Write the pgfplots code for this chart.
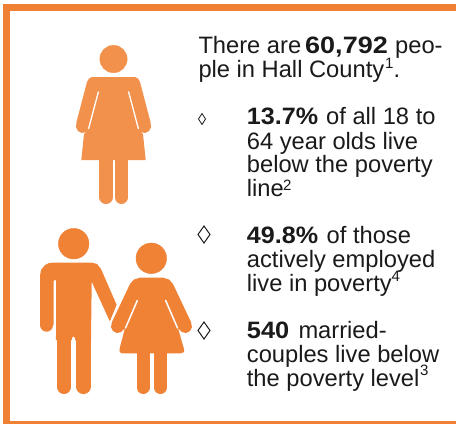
\documentclass[border=0pt]{standalone}
\usepackage{fontspec}
\setmainfont{Liberation Sans}
\usepackage{graphicx}
\usepackage{pgfplots}
\pgfplotsset{compat=1.18}
\definecolor{band}{HTML}{F08033}
\definecolor{womanA}{HTML}{F2914C}
\definecolor{couple}{HTML}{F08236}
\definecolor{ink}{HTML}{1A1A1A}
\newcommand{\body}{\fontsize{23.7}{24}\selectfont}
\newcommand{\sups}{\fontsize{15}{15}\selectfont}
\tikzset{
  txt/.style={anchor=base west, inner sep=0pt, text=ink, font=\body},
  sup/.style={anchor=base west, inner sep=0pt, text=ink, font=\sups},
}
\begin{document}
\begin{tikzpicture}
\begin{axis}[
    scale only axis, width=456pt, height=424pt,
    xmin=0, xmax=456, ymin=0, ymax=424, y dir=reverse,
    hide axis, clip=true,
]
% page and border
\addplot[fill=white, draw=none] coordinates {(0,0)(456,0)(456,424)(0,424)};
\addplot[fill=band, draw=none] coordinates {(3,4)(456,4)(456,10.5)(3,10.5)};
\addplot[fill=band, draw=none] coordinates {(3,4)(9.5,4)(9.5,424)(3,424)};
\addplot[fill=band, draw=none] coordinates {(3,421)(456,421)(456,424)(3,424)};

% single woman
\addplot[only marks, mark=*, mark size=13.7, color=womanA] coordinates {(113.5,59)};
\addplot[fill=womanA, draw=none] coordinates {
  (92,77)(135,77)(138,78.5)(140,82)(150.5,122)(151,127)(149,131)(145,133)(141,132)(143,134)
  (145.7,160)(81.3,160)(84,134)(86,132)(82,133)(78,131)(76,127)(76.5,122)(87,82)(89,78.5)};
\addplot[line width=13.4pt, line cap=round, color=womanA] coordinates {(106,150)(106,197.3)};
\addplot[line width=13.4pt, line cap=round, color=womanA] coordinates {(121.3,150)(121.3,197.3)};
\addplot[white, line width=1.3pt] coordinates {(98.5,91.5)(88.5,129)};
\addplot[white, line width=1.3pt] coordinates {(128.5,91.5)(138.5,129)};

% man
\addplot[only marks, mark=*, mark size=15.3, color=couple] coordinates {(73.7,243.7)};
\addplot[fill=couple, draw=none] coordinates {
  (53,262.7)(92,262.7)(97,264)(101,269)(116.7,305)(110,321.7)(91.7,281.7)(91,340)(56,340)(55,281)
  (53.5,281)(53.5,325)(40,325)(40,276)(41,270)(45,265)(49,263)};
\addplot[line width=13.4pt, line cap=round, color=couple] coordinates {(46.7,300)(46.7,325)};
\addplot[line width=14.7pt, line cap=round, color=couple] coordinates {(64,320)(64,386.7)};
\addplot[line width=14.7pt, line cap=round, color=couple] coordinates {(83.3,320)(83.3,386.7)};
\addplot[white, line width=2.6pt, line cap=round] coordinates {(73.7,338)(73.7,350)};
\addplot[white, line width=2.6pt, line cap=round] coordinates {(55,281)(55,335)};

% woman in the couple
\addplot[white, line width=2.2pt] coordinates {(118,305)(110.5,323)};
\addplot[only marks, mark=*, mark size=15.3, color=couple] coordinates {(151.3,258.3)};
\addplot[fill=couple, draw=none] coordinates {
  (140,277.7)(163,277.7)(169,279.5)(173,284)(191,322)(192,327)(190,331)(186,333)(182,332)(178,328)
  (184,349)(184,352)(181,353.3)(122,353.3)(119.5,352)(119.5,349)(125,328)(121,332)(117,333)(113,331)(111,327)(112,322)(130,284)(134,279.5)};
\addplot[line width=13pt, line cap=round, color=couple] coordinates {(143,345)(143,387.5)};
\addplot[line width=13pt, line cap=round, color=couple] coordinates {(160.3,345)(160.3,387.5)};
\addplot[white, line width=1.5pt, line cap=round] coordinates {(137.3,300.5)(125.5,328)};
\addplot[white, line width=1.5pt, line cap=round] coordinates {(165.7,300.5)(177.5,328)};

% bullets
\addplot[ink, line width=0.8pt] coordinates {(202,113.5)(205.5,119)(202,124.5)(198.5,119)(202,113.5)(205.5,119)};
\addplot[ink, line width=1pt] coordinates {(204,226)(210,234.5)(204,243)(198,234.5)(204,226)(210,234.5)};
\addplot[ink, line width=1pt] coordinates {(204,322)(210,330.5)(204,339)(198,330.5)(204,322)(210,330.5)};

% text, one node for each run
\node[txt] at (axis cs:198.3,53.3) {There are};
\node[txt] at (axis cs:305,53.3) {\scalebox{1.14}[1]{\textbf{60,792}}};
\node[txt] at (axis cs:395,53.3) {peo-};
\node[txt] at (axis cs:198.3,77.3) {ple in Hall County};
\node[sup] at (axis cs:385,68) {1};
\node[txt] at (axis cs:393.5,77.3) {.};

\node[txt] at (axis cs:246.7,124.3) {\scalebox{1.06}[1]{\textbf{13.7\%}}};
\node[txt] at (axis cs:326,124.3) {of all 18 to};
\node[txt] at (axis cs:246.7,149) {64 year olds live};
\node[txt] at (axis cs:246.7,172.7) {below the poverty};
\node[txt] at (axis cs:246.7,196.7) {line};
\node[sup] at (axis cs:283,190) {2};

\node[txt] at (axis cs:246.7,243.3) {\scalebox{1.06}[1]{\textbf{49.8\%}}};
\node[txt] at (axis cs:326.5,243.3) {of those};
\node[txt] at (axis cs:246.7,267.7) {actively employed};
\node[txt] at (axis cs:246.7,291.7) {live in poverty};
\node[sup] at (axis cs:391.5,281) {4};

\node[txt] at (axis cs:246.7,338.3) {\scalebox{1.07}[1]{\textbf{540}}};
\node[txt] at (axis cs:298.3,338.3) {married-};
\node[txt] at (axis cs:246.7,362.7) {couples live below};
\node[txt] at (axis cs:246.7,386.7) {the poverty level};
\node[sup] at (axis cs:420,375) {3};
\end{axis}
\end{tikzpicture}
\end{document}
